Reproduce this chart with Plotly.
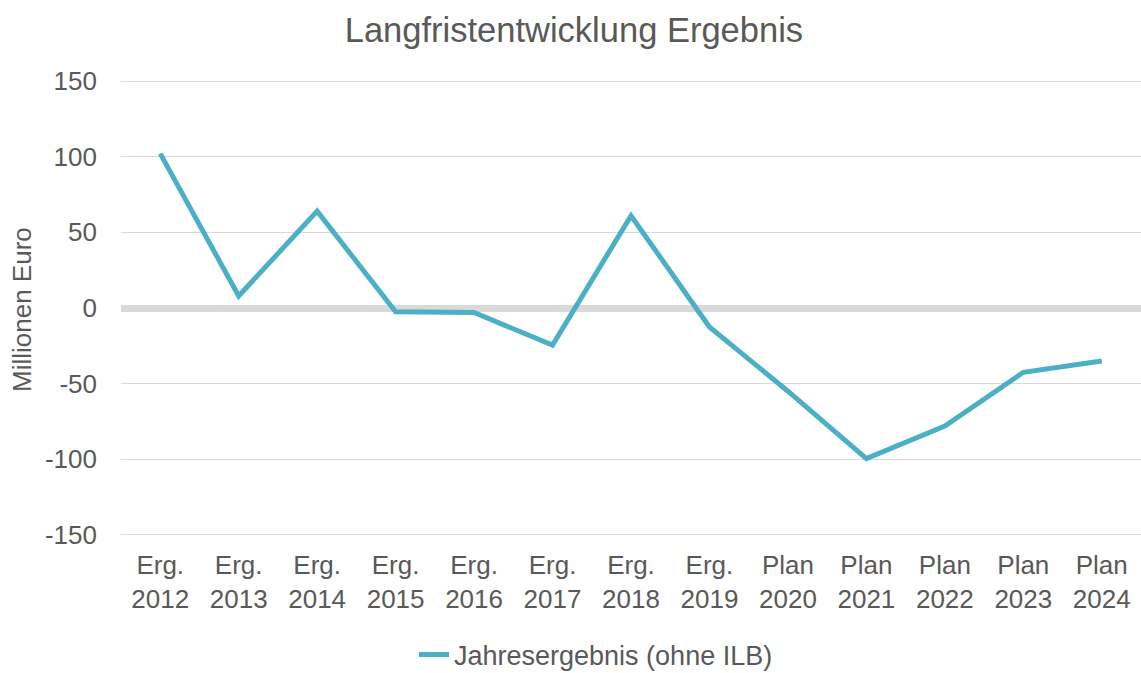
import plotly.graph_objects as go

categories = ["Erg.<br>2012", "Erg.<br>2013", "Erg.<br>2014", "Erg.<br>2015", "Erg.<br>2016",
              "Erg.<br>2017", "Erg.<br>2018", "Erg.<br>2019", "Plan<br>2020", "Plan<br>2021",
              "Plan<br>2022", "Plan<br>2023", "Plan<br>2024"]
values = [102, 8, 64, -2.5, -3, -24.5, 61, -12.5, -55, -99.5, -78, -42.5, -35]
series_name = "Jahresergebnis (ohne ILB)"
y_ticks = [-150, -100, -50, 0, 50, 100, 150]
y_tick_labels = ["-150", "-100", "-50", "0", "50", "100", "150"]

font_family = "Liberation Sans, Arial, sans-serif"
text_color = "#595959"

W, H = 1141, 673
L, R, T, B = 121, 0, 78, 135
PH = H - T - B
PW = W - L - R

fig = go.Figure()
fig.add_trace(go.Scatter(
    x=categories, y=values, mode="lines", name=series_name,
    line=dict(color="#4BAFC6", width=5),
))

fig.update_layout(
    width=W, height=H,
    paper_bgcolor="white", plot_bgcolor="white",
    margin=dict(l=L, r=R, t=T, b=B, autoexpand=False),
    title=dict(text="Langfristentwicklung Ergebnis", x=0.503, xanchor="center",
               y=1 - 30 / H, yanchor="middle",
               font=dict(family=font_family, size=34.5, color=text_color)),
    font=dict(family=font_family, color=text_color),
    showlegend=True,
    legend=dict(orientation="h", x=(414 - L) / PW, xanchor="left",
                y=-(655 - (H - B)) / PH, yanchor="middle",
                font=dict(size=27, color=text_color)),
    xaxis=dict(
        type="category", showgrid=False, showline=False, ticks="",
        tickfont=dict(size=26, color=text_color), range=[-0.5, 12.5],
        ticklabelstandoff=9, automargin=False,
    ),
    yaxis=dict(
        range=[-152, 152], tickvals=y_ticks, ticktext=y_tick_labels, showgrid=True,
        gridcolor="#D9D9D9", gridwidth=1.3,
        zeroline=True, zerolinecolor="#D9D9D9", zerolinewidth=6.5,
        showline=False, ticks="", ticklabelstandoff=23,
        tickfont=dict(size=26, color=text_color),
        automargin=False,
    ),
    annotations=[dict(
        text="Millionen Euro", xref="paper", yref="paper",
        x=(22 - L) / PW, y=(H - B - 310) / PH,
        xanchor="center", yanchor="middle", textangle=-90, showarrow=False,
        font=dict(family=font_family, size=26, color=text_color),
    )],
)

fig.write_html(
    "out.html",
    config={"displayModeBar": False},
    post_script="document.body.style.margin='0';document.body.style.overflow='hidden';",
)
